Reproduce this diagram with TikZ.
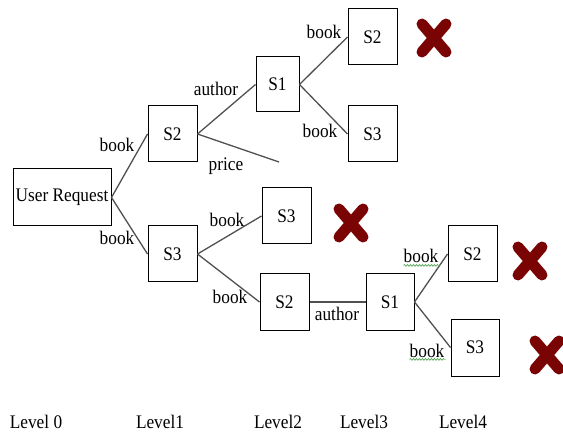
\documentclass[tikz,border=0pt]{standalone}
\usepackage{fontspec}
\setmainfont{Liberation Serif}[FakeStretch=0.9]
\usetikzlibrary{decorations.pathmorphing}
\definecolor{crossred}{RGB}{122,4,4}
\definecolor{linkgray}{RGB}{80,80,80}
\definecolor{spellgreen}{RGB}{90,170,90}
\begin{document}
\begin{tikzpicture}[x=1pt,y=-1pt,
  txt/.style={font=\fontsize{19.2}{22}\selectfont},
  svc/.style={txt,draw=black,line width=1pt,fill=white,inner sep=0pt,
    minimum width=49pt,minimum height=56pt},
  link/.style={draw=linkgray,line width=1.3pt},
  lbl/.style={txt,inner sep=0pt,anchor=base},
  spell/.style={draw=spellgreen,line width=0.7pt,decorate,
    decoration={snake,amplitude=0.9pt,segment length=3pt}},
  reject/.style={draw=crossred,line width=11pt,line cap=round}]
\useasboundingbox (0,0) rectangle (563,433);

% service nodes, level by level
\node[svc,minimum width=98pt,minimum height=57pt] (ur) at (62,197.5) {User Request};
\node[svc] (s2a) at (172.5,134) {S2};
\node[svc] (s3a) at (172.5,254) {S3};
\node[svc,minimum width=43pt,minimum height=55pt] (s1b) at (277.5,84.5) {S1};
\node[svc] (s3b) at (286.5,216) {S3};
\node[svc] (s2b) at (284.5,302) {S2};
\node[svc] (s2c) at (372.5,37) {S2};
\node[svc] (s3c) at (372.5,134) {S3};
\node[svc,minimum width=48pt] (s1c) at (390,302) {S1};
\node[svc] (s2d) at (472.5,254) {S2};
\node[svc,minimum width=48pt,minimum height=57pt] (s3d) at (475,347.5) {S3};
\coordinate (priceend) at (279,162);

% links
\draw[link] (ur.east) -- (s2a.west);
\draw[link] (ur.east) -- (s3a.west);
\draw[link] (s2a.east) -- (s1b.west);
\draw[link] (s2a.east) -- (priceend);
\draw[link] (s1b.east) -- (s2c.west);
\draw[link] (s1b.east) -- (s3c.west);
\draw[link] (s3a.east) -- (s3b.west);
\draw[link] (s3a.east) -- (s2b.west);
\draw[link] (s2b.east) -- (s1c.west);
\draw[link] (s1c.east) -- (s2d.west);
\draw[link] (s1c.east) -- (s3d.west);

% link labels
\node[lbl] (l1) at (117,152) {book};
\node[lbl] (l2) at (117,245) {book};
\node[lbl] (l3) at (216,96) {author};
\node[lbl] (l4) at (226,171) {price};
\node[lbl] (l5) at (324,39) {book};
\node[lbl] (l6) at (320,138) {book};
\node[lbl] (l7) at (227,227) {book};
\node[lbl] (l8) at (230,303) {book};
\node[lbl] (l9) at (337,320) {author};
\node[lbl] (l10) at (421,263) {book};
\node[lbl] (l11) at (427,357) {book};
\draw[spell] (l10.south west) ++(0,2) -- ++(36,0);
\draw[spell] (l11.south west) ++(0,2) -- ++(36,0);

% rejected services
\foreach \cx/\cy in {434/38, 351/223, 530/261, 547/355}{
  \draw[reject] (\cx-12,\cy-14) -- (\cx+12,\cy+14);
  \draw[reject] (\cx-12,\cy+14) -- (\cx+12,\cy-14);
}

% level captions
\node[lbl] (lv0) at (36,428) {Level 0};
\node[lbl] (lv1) at (160,428) {Level1};
\node[lbl] (lv2) at (278,428) {Level2};
\node[lbl] (lv3) at (364,428) {Level3};
\node[lbl] (lv4) at (463,428) {Level4};
\end{tikzpicture}
\end{document}
